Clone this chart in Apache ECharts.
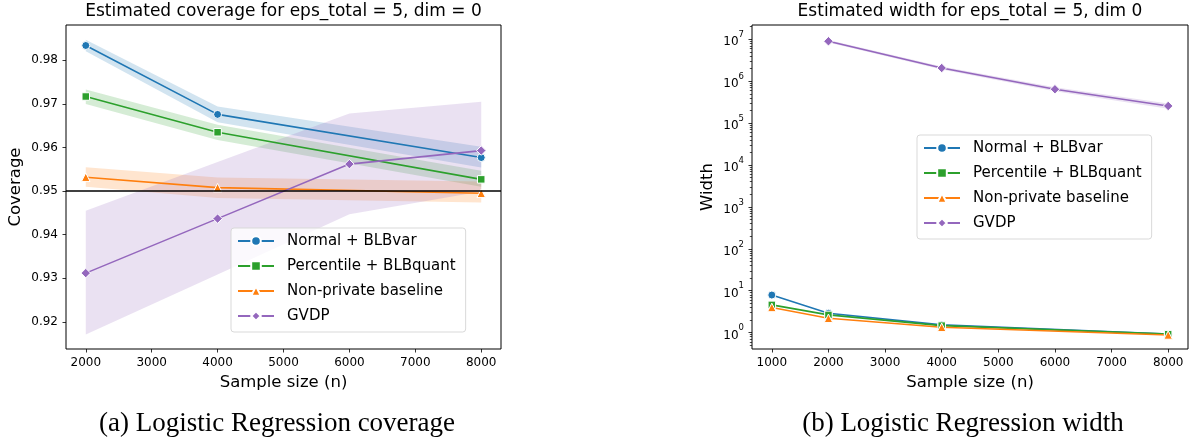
<!DOCTYPE html>
<html><head><meta charset="utf-8">
<script src="https://cdn.jsdelivr.net/npm/echarts@6/dist/echarts.min.js"></script>
<style>html,body{margin:0;padding:0;background:#fff}#c{width:1189px;height:442px}</style>
</head><body><div id="c"></div>
<script>
// ---------- Data: coverage (left) ----------
const covNormalX = [2000, 4000, 8000];
const covNormal = [0.9834, 0.9676, 0.9577];
const covNormalLo = [0.9821, 0.9658, 0.9554];
const covNormalHi = [0.9847, 0.9694, 0.9602];

const covPercX = [2000, 4000, 8000];
const covPerc = [0.9717, 0.9635, 0.9527];
const covPercLo = [0.9700, 0.9617, 0.9510];
const covPercHi = [0.9733, 0.9652, 0.9547];

const covBaseX = [2000, 4000, 8000];
const covBase = [0.9532, 0.9508, 0.9495];
const covBaseLo = [0.9510, 0.9484, 0.9474];
const covBaseHi = [0.9555, 0.9531, 0.9522];

const covGvdpX = [2000, 4000, 6000, 8000];
const covGvdp = [0.9312, 0.9437, 0.9562, 0.9593];
const covGvdpLo = [0.9171, 0.9309, 0.9447, 0.9499];
const covGvdpHi = [0.9455, 0.9567, 0.9678, 0.9705];

const covTarget = 0.95;

// ---------- Data: width (right) ----------
const widX = [1000, 2000, 4000, 8000];
const widNormal = [7.9, 2.9, 1.53, 0.93];
const widPerc = [4.6, 2.65, 1.47, 0.92];
const widBase = [4.0, 2.2, 1.34, 0.88];
const widGvdpX = [2000, 4000, 6000, 8000];
const widGvdp = [9.0e6, 2.07e6, 6.45e5, 2.57e5];
const widGvdpLo = [8.4e6, 1.9e6, 5.8e5, 2.2e5];
const widGvdpHi = [9.6e6, 2.25e6, 7.2e5, 2.95e5];

// ---------- Tick labels ----------
const leftXTicks = [2000, 3000, 4000, 5000, 6000, 7000, 8000];
const leftYTicks = [0.92, 0.93, 0.94, 0.95, 0.96, 0.97, 0.98];
const rightXTicks = [1000, 2000, 3000, 4000, 5000, 6000, 7000, 8000];
const rightYTicks = [1, 10, 100, 1000, 10000, 100000, 1000000, 10000000];
const rightYMinorTicks = [];
for (let e = -1; e <= 7; e++) for (let m = 2; m <= 9; m++) rightYMinorTicks.push(m * Math.pow(10, e));

const names = ['Normal + BLBvar', 'Percentile + BLBquant', 'Non-private baseline', 'GVDP'];
const colors = ['#1f77b4', '#2ca02c', '#ff7f0e', '#9467bd'];
const symbols = ['circle', 'rect', 'triangle', 'diamond'];
const symSizes = [8, 7.5, 8.5, 9.5];

const FONT = 'DejaVu Sans';
const zip2 = (xs, ys) => xs.map((x, i) => [x, ys[i]]);

function band(gridIdx, xs, lo, hi, color) {
  return {
    type: 'custom', xAxisIndex: gridIdx, yAxisIndex: gridIdx === 0 ? 0 : 1,
    data: xs.map((x, i) => [x, lo[i], hi[i]]),
    encode: { x: 0, y: [1, 2] }, silent: true, z: 1,
    renderItem: function (params, api) {
      if (params.dataIndex !== 0) return null;
      const pts = [];
      for (let i = 0; i < xs.length; i++) pts.push(api.coord([xs[i], hi[i]]));
      for (let i = xs.length - 1; i >= 0; i--) pts.push(api.coord([xs[i], lo[i]]));
      return { type: 'polygon', shape: { points: pts }, style: { fill: color, opacity: 0.2 } };
    }
  };
}
function line(gridIdx, k, xs, ys) {
  return {
    type: 'line', name: names[k], xAxisIndex: gridIdx, yAxisIndex: gridIdx === 0 ? 0 : 1,
    data: zip2(xs, ys), symbol: symbols[k], symbolSize: symSizes[k], showAllSymbol: true,
    lineStyle: { color: colors[k], width: 1.6 },
    itemStyle: { color: colors[k], borderColor: '#fff', borderWidth: 1 },
    z: 3, emphasis: { disabled: true }
  };
}

const legendCommon = {
  orient: 'vertical', data: names, itemWidth: 36, itemHeight: 12, itemGap: 7,
  padding: [4, 10, 7, 6], backgroundColor: 'rgba(255,255,255,0.8)',
  borderColor: '#d9d9d9', borderWidth: 1, borderRadius: 3,
  textStyle: { fontFamily: FONT, fontSize: 15, color: '#000', lineHeight: 18, padding: [0, 0, 0, 8] },
  selectedMode: false
};

const axisText = { fontFamily: FONT, fontSize: 12, color: '#000' };
const nameText = { fontFamily: FONT, fontSize: 16.5, color: '#000' };
const plain = v => String(v);

const option = {
  animation: false,
  backgroundColor: '#fff',
  title: [
    { text: 'Estimated coverage for eps_total = 5, dim = 0', left: 283.5, textAlign: 'center', top: 3, padding: 0,
      textStyle: { fontFamily: FONT, fontSize: 17, fontWeight: 'normal', color: '#000' } },
    { text: 'Estimated width for eps_total = 5, dim 0', left: 970, textAlign: 'center', top: 3, padding: 0,
      textStyle: { fontFamily: FONT, fontSize: 17, fontWeight: 'normal', color: '#000' } },
    { text: '(a) Logistic Regression coverage', left: 277, textAlign: 'center', top: 410, padding: 0,
      textStyle: { fontFamily: 'Liberation Serif', fontSize: 27, fontWeight: 'normal', color: '#000' } },
    { text: '(b) Logistic Regression width', left: 963, textAlign: 'center', top: 410, padding: 0,
      textStyle: { fontFamily: 'Liberation Serif', fontSize: 27, fontWeight: 'normal', color: '#000' } }
  ],
  legend: [
    Object.assign({ left: 231, top: 228 }, legendCommon),
    Object.assign({ left: 917, top: 135 }, legendCommon)
  ],
  grid: [
    { left: 66, top: 25, width: 435, height: 324, show: true, borderColor: '#000', borderWidth: 1, backgroundColor: 'transparent' },
    { left: 752, top: 25, width: 436, height: 324, show: true, borderColor: '#000', borderWidth: 1, backgroundColor: 'transparent' }
  ],
  xAxis: [
    { type: 'value', gridIndex: 0, min: 1700, max: 8300,
      name: 'Sample size (n)', nameLocation: 'middle', nameGap: 25, nameTextStyle: nameText,
      axisLine: { show: false }, splitLine: { show: false },
      axisTick: { show: true, length: 3.5, customValues: leftXTicks, lineStyle: { color: '#000', width: 0.8 } },
      axisLabel: Object.assign({ customValues: leftXTicks, margin: 8, formatter: plain }, axisText) },
    { type: 'value', gridIndex: 1, min: 650, max: 8350,
      name: 'Sample size (n)', nameLocation: 'middle', nameGap: 25, nameTextStyle: nameText,
      axisLine: { show: false }, splitLine: { show: false },
      axisTick: { show: true, length: 3.5, customValues: rightXTicks, lineStyle: { color: '#000', width: 0.8 } },
      axisLabel: Object.assign({ customValues: rightXTicks, margin: 8, formatter: plain }, axisText) }
  ],
  yAxis: [
    { type: 'value', gridIndex: 0, min: 0.9138, max: 0.9881, position: 'left',
      name: 'Coverage', nameLocation: 'middle', nameGap: 42, nameTextStyle: nameText,
      axisLine: { show: false }, splitLine: { show: false },
      axisTick: { show: true, length: 3.5, customValues: leftYTicks, lineStyle: { color: '#000', width: 0.8 } },
      axisLabel: Object.assign({ customValues: leftYTicks, margin: 8, formatter: v => v.toFixed(2) }, axisText) },
    { type: 'log', logBase: 10, gridIndex: 1, min: 0.407, max: 2.2e7, position: 'left',
      name: 'Width', nameLocation: 'middle', nameGap: 36, nameTextStyle: nameText,
      axisLine: { show: false }, splitLine: { show: false },
      axisTick: { show: true, length: 3.5, customValues: rightYTicks, lineStyle: { color: '#000', width: 0.8 } },
      axisLabel: { customValues: rightYTicks, margin: 8,
        formatter: v => '{b|10}{e|' + Math.round(Math.log10(v)) + '}',
        rich: { b: { fontFamily: FONT, fontSize: 12, color: '#000', lineHeight: 18, verticalAlign: 'bottom' },
                e: { fontFamily: FONT, fontSize: 8.5, color: '#000', lineHeight: 18, verticalAlign: 'top' } } } },
    { type: 'log', logBase: 10, gridIndex: 1, min: 0.407, max: 2.2e7, position: 'left',
      axisLine: { show: false }, splitLine: { show: false }, axisLabel: { show: false },
      axisTick: { show: true, length: 2.2, customValues: rightYMinorTicks, lineStyle: { color: '#000', width: 0.7 } } }
  ],
  series: [
    band(0, covNormalX, covNormalLo, covNormalHi, colors[0]),
    band(0, covPercX, covPercLo, covPercHi, colors[1]),
    band(0, covBaseX, covBaseLo, covBaseHi, colors[2]),
    band(0, covGvdpX, covGvdpLo, covGvdpHi, colors[3]),
    line(0, 0, covNormalX, covNormal),
    line(0, 1, covPercX, covPerc),
    line(0, 2, covBaseX, covBase),
    Object.assign(line(0, 3, covGvdpX, covGvdp), {
      markLine: { silent: true, symbol: 'none', label: { show: false },
        lineStyle: { color: '#000', width: 1.5, type: 'solid' }, data: [{ yAxis: covTarget }] }
    }),
    band(1, widGvdpX, widGvdpLo, widGvdpHi, colors[3]),
    line(1, 0, widX, widNormal),
    line(1, 1, widX, widPerc),
    line(1, 2, widX, widBase),
    line(1, 3, widGvdpX, widGvdp)
  ]
};
const chart = echarts.init(document.getElementById('c'), null, { renderer: 'canvas' });
chart.setOption(option);
</script></body></html>
